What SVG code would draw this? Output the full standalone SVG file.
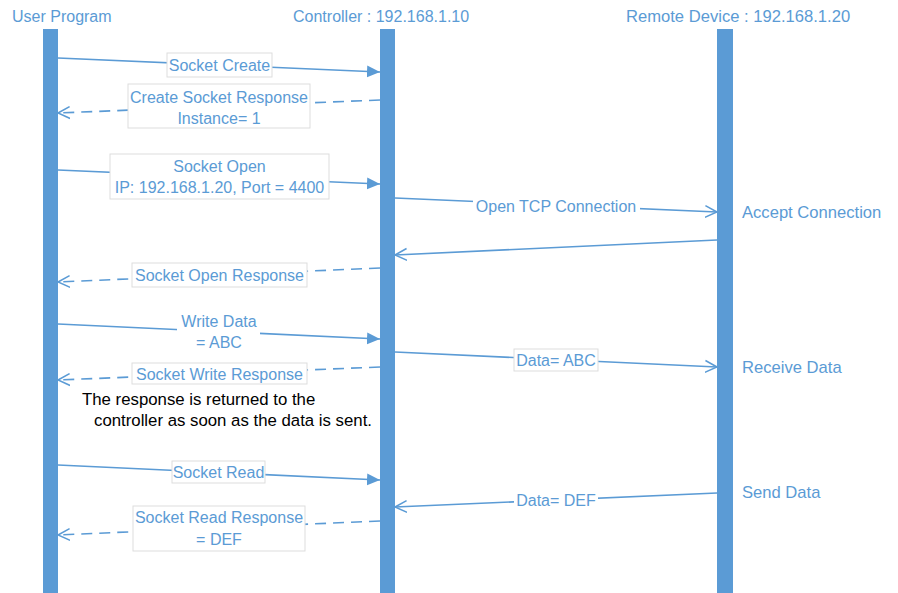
<svg xmlns="http://www.w3.org/2000/svg" width="898" height="593" viewBox="0 0 898 593">
<style>
text{font-family:"Liberation Sans",Arial,sans-serif;font-size:16px;fill:#5B9BD5}
.c{text-anchor:middle}
.note{fill:#000;font-size:16.8px}
.side{font-size:16.6px}
.bar{fill:#5B9BD5}
.msg{stroke:#5B9BD5;stroke-width:1.6;fill:none}
.solid{marker-end:url(#fill)}
.open{marker-end:url(#open)}
.dash{stroke-dasharray:11 7;marker-end:url(#open)}
.lbl{fill:#fff;stroke:#DDDDDD;stroke-width:1}
</style>
<defs>
<marker id="fill" markerUnits="userSpaceOnUse" markerWidth="14" markerHeight="14" refX="13" refY="6" orient="auto" viewBox="0 0 14 12">
<path d="M0,0 L13,6 L0,12 z" fill="#5B9BD5"/>
</marker>
<marker id="open" markerUnits="userSpaceOnUse" markerWidth="14" markerHeight="14" refX="11" refY="6" orient="auto" viewBox="0 0 13 12">
<path d="M0,0.5 L11,6 L0,11.5" fill="none" stroke="#5B9BD5" stroke-width="1.4"/>
</marker>
</defs>
<rect width="898" height="593" fill="#fff"/>
<g id="user-program">
<text x="12" y="22">User Program</text>
<rect class="bar" x="43" y="29" width="15" height="564"/>
</g>
<g id="controller">
<text x="293" y="22">Controller : 192.168.1.10</text>
<rect class="bar" x="380" y="29" width="15" height="564"/>
</g>
<g id="remote-device">
<text class="side" x="626" y="22">Remote Device : 192.168.1.20</text>
<rect class="bar" x="717" y="29" width="16" height="564"/>
<text class="side" x="742" y="218">Accept Connection</text>
<text class="side" x="742" y="373">Receive Data</text>
<text class="side" x="742" y="498">Send Data</text>
</g>
<g id="connectors">
<line class="msg solid" x1="58" y1="58" x2="380" y2="72"/>
<line class="msg dash" x1="380" y1="100" x2="58" y2="113"/>
<line class="msg solid" x1="58" y1="170" x2="380" y2="184"/>
<line class="msg open" x1="395" y1="198" x2="717" y2="212"/>
<line class="msg open" x1="717" y1="240" x2="395" y2="255"/>
<line class="msg dash" x1="380" y1="268" x2="58" y2="282"/>
<line class="msg solid" x1="58" y1="324" x2="380" y2="339"/>
<line class="msg open" x1="395" y1="352" x2="717" y2="367"/>
<line class="msg dash" x1="380" y1="367" x2="58" y2="380"/>
<line class="msg solid" x1="58" y1="465" x2="380" y2="480"/>
<line class="msg open" x1="717" y1="493" x2="395" y2="507"/>
<line class="msg dash" x1="380" y1="521" x2="58" y2="535"/>
</g>
<g id="labels">
<rect class="lbl" x="167" y="53" width="105" height="24"/>
<text class="c" x="219.5" y="71">Socket Create</text>
<rect class="lbl" x="128" y="84" width="182" height="44"/>
<text class="c" x="219" y="103">Create Socket Response</text>
<text class="c" x="219" y="124">Instance= 1</text>
<rect class="lbl" x="110" y="154" width="219" height="45"/>
<text class="c" x="219.5" y="172">Socket Open</text>
<text class="c" x="219.5" y="193">IP: 192.168.1.20, Port = 4400</text>
<rect class="lbl" x="473" y="195" width="167" height="24" style="stroke:none"/>
<text class="c" x="556" y="212">Open TCP Connection</text>
<rect class="lbl" x="132" y="263" width="175" height="24"/>
<text class="c" x="219.5" y="281">Socket Open Response</text>
<rect class="lbl" x="177" y="313" width="83" height="42" style="stroke:none"/>
<text class="c" x="219" y="327">Write Data</text>
<text class="c" x="219" y="348">= ABC</text>
<rect class="lbl" x="514" y="349" width="84" height="22"/>
<text class="c" x="556" y="366">Data= ABC</text>
<rect class="lbl" x="132" y="363" width="175" height="21"/>
<text class="c" x="219.5" y="380">Socket Write Response</text>
<text class="note" x="82" y="405">The response is returned to the</text>
<text class="note" x="94" y="426">controller as soon as the data is sent.</text>
<rect class="lbl" x="172" y="461" width="93" height="22"/>
<text class="c" x="218.5" y="478">Socket Read</text>
<rect class="lbl" x="514" y="489" width="84" height="23" style="stroke:none"/>
<text class="c" x="556" y="506">Data= DEF</text>
<rect class="lbl" x="133" y="506" width="172" height="45"/>
<text class="c" x="219" y="523">Socket Read Response</text>
<text class="c" x="219" y="545">= DEF</text>
</g>
</svg>
